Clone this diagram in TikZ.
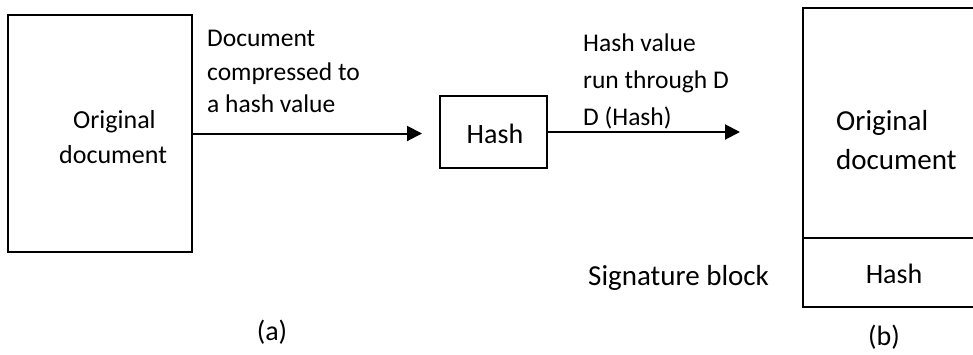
\documentclass[tikz,border=0pt]{standalone}
\usepackage{fontspec}
\setmainfont{Carlito}
\usetikzlibrary{arrows.meta}
\begin{document}
\begin{tikzpicture}[x=1pt,y=-1pt,
  box/.style={draw, line width=1.3pt, inner sep=0pt},
  txt/.style={inner sep=0pt, anchor=base west},
  lbl/.style={txt, font=\fontsize{25.5}{30}\selectfont},
  big/.style={txt, font=\fontsize{29}{32}\selectfont},
  conn/.style={line width=2pt, -{Triangle[length=15pt,width=15pt]}}]
\useasboundingbox (0,0) rectangle (973,354);
% boxes
\node[box, minimum width=184pt, minimum height=237pt] (doc) at (100,133.5) {};
\node[box, minimum width=107pt, minimum height=72pt] (hash) at (493.5,132) {};
\node[box, minimum width=187pt, minimum height=230pt] (sigdoc) at (896.5,123) {};
\node[box, minimum width=187pt, minimum height=69pt] (sighash) at (896.5,272.5) {};
% connector ends
\coordinate (t1) at (422,133.5);
\coordinate (t2) at (740,132);
\draw[conn] (doc.east) -- (t1);
\draw[conn] (hash.east) -- (t2);
% texts in boxes
\node[txt, font=\fontsize{26}{30}\selectfont] (d1) at (73,128) {Original};
\node[txt, font=\fontsize{26}{30}\selectfont] (d2) at (59,163) {document};
\node[txt, font=\fontsize{28}{32}\selectfont, anchor=base] (h1) at (495,143) {Hash};
\node[big] (s1) at (836,130) {Original};
\node[big] (s2) at (836,169) {document};
\node[txt, font=\fontsize{28}{32}\selectfont, anchor=base] (s3) at (894,283) {Hash};
% labels
\node[lbl] (l1) at (207,46.7) {Document};
\node[lbl] (l2) at (207,80) {compressed to};
\node[lbl] (l3) at (207,112) {a hash value};
\node[lbl] (m1) at (583,51.7) {Hash value};
\node[lbl] (m2) at (583,88.3) {run through D};
\node[lbl] (m3) at (583,125) {D (Hash)};
\node[big] (sb) at (588,285) {Signature block};
\node[txt, font=\fontsize{28}{32}\selectfont, anchor=base] (ca) at (272,340) {(a)};
\node[txt, font=\fontsize{28}{32}\selectfont, anchor=base] (cb) at (884,345) {(b)};
\end{tikzpicture}
\end{document}
